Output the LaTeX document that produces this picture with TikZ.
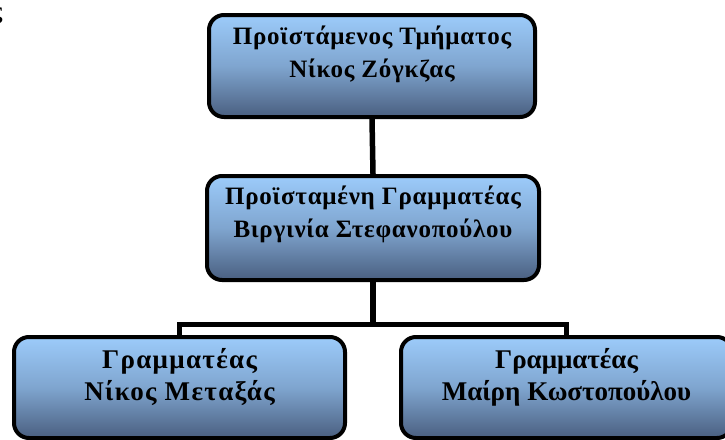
\documentclass[tikz,border=0pt]{standalone}
\usepackage{fontspec}
\setmainfont{Liberation Serif}
\newfontfamily\boxfontA[LetterSpace=3]{Liberation Serif}
\newfontfamily\boxfontB[LetterSpace=5]{Liberation Serif}
\definecolor{boxtop}{HTML}{9CCBFA}
\definecolor{boxmid}{HTML}{7FA5CF}
\definecolor{boxbot}{HTML}{4A5F80}
\begin{document}
\begin{tikzpicture}[x=1pt,y=-1pt,
  orgbox/.style={draw=black, line width=4pt, rounded corners=15pt, rectangle,
    top color=boxtop, bottom color=boxbot, middle color=boxmid, inner sep=0pt},
  lbl/.style={font=\boxfontA\fontsize{25}{33}\bfseries\selectfont, align=center, inner sep=0pt, anchor=base},
  lblbig/.style={font=\fontsize{27}{32}\bfseries\selectfont, align=center, inner sep=0pt, anchor=base},
  conn/.style={draw=black, line width=5.5pt}]
\useasboundingbox (0,0) rectangle (725,439);
\node[font=\fontsize{25}{32}\bfseries\selectfont, inner sep=0pt] (frag) at (-3,16) {ς};
\node[orgbox, minimum width=326pt, minimum height=102pt] (top) at (372,66) {};
\node[orgbox, minimum width=332pt, minimum height=104pt] (mid) at (373,228) {};
\node[orgbox, minimum width=331pt, minimum height=101pt] (bl) at (179.5,387.5) {};
\node[orgbox, minimum width=331pt, minimum height=101pt] (br) at (566.5,387.5) {};
\node[lbl] (ttop) at ([yshift=-64pt]top.north) {Προϊστάμενος Τμήματος\\Νίκος Ζόγκζας};
\node[lbl] (tmid) at ([yshift=-63pt]mid.north) {Προϊσταμένη Γραμματέας\\Βιργινία Στεφανοπούλου};
\node[lblbig, font=\boxfontB\fontsize{27}{32}\bfseries\selectfont] (tbl) at ([yshift=-65pt]bl.north) {Γραμματέας\\Νίκος Μεταξάς};
\node[lblbig] (tbr) at ([yshift=-65pt]br.north) {Γραμματέας\\Μαίρη Κωστοπούλου};
\coordinate (bus) at (373,324.5);
\draw[conn] (top.south) -- (mid.north);
\draw[conn] (mid.south) -- (bus);
\draw[conn] (bl.north) -- (bl.north |- bus) -- (br.north |- bus) -- (br.north);
\end{tikzpicture}
\end{document}
